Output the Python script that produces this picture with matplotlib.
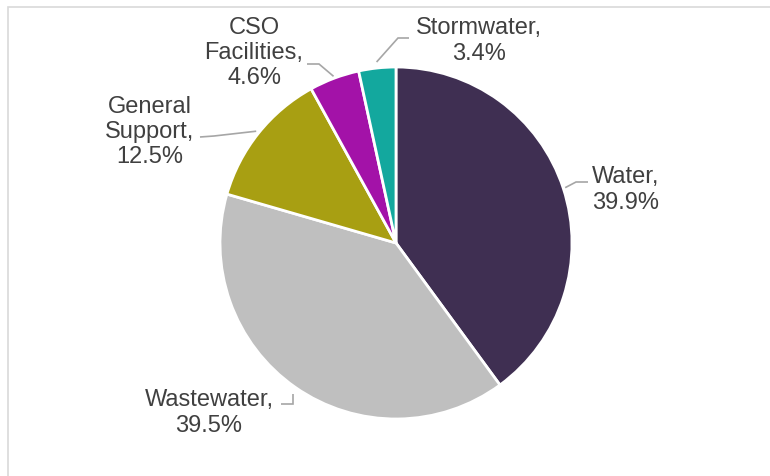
import matplotlib.pyplot as plt
import matplotlib.patches as mpatches
import numpy as np

# Data
labels = ['Water', 'Wastewater', 'General\nSupport', 'CSO\nFacilities', 'Stormwater']
shares = [39.9, 39.5, 12.5, 4.6, 3.4]
colors = ['#3F2F52', '#BFBFBF', '#A89F12', '#A312A8', '#13A89E']

# Layout (pixels, measured from top-left of the image)
W, H = 770, 476
center = (396, H - 243)
radius = 176
label_pos = [(626, 190), (209, 413), (150, 132), (254, 53), (479, 41)]
# leader: start next to the text, elbow, then to the slice edge
leader_start = [(588, 182), (281, 404), (200, 137), (307, 64), (409, 38)]
leader_elbow = [(576, 182), (293, 404), (214, 136), (319, 64), (398, 38)]
leader_gap = [2, 8, 3, 2, 6]
text_color = '#404040'
leader_color = '#A6A6A6'

plt.rcParams['font.family'] = ['Liberation Sans', 'DejaVu Sans']

fig = plt.figure(figsize=(W / 100, H / 100), dpi=100)
ax = fig.add_axes([0, 0, 1, 1])

wedges, _ = ax.pie(shares, colors=colors, startangle=90, counterclock=False,
                   center=center, radius=radius, frame=True,
                   wedgeprops=dict(edgecolor='white', linewidth=2))
ax.set_xlim(0, W)
ax.set_ylim(0, H)
ax.set_aspect('auto')
ax.axis('off')

for i, w in enumerate(wedges):
    mid = np.deg2rad((w.theta1 + w.theta2) / 2)
    ex = center[0] + (radius + leader_gap[i]) * np.cos(mid)
    ey = center[1] + (radius + leader_gap[i]) * np.sin(mid)
    sx, sy = leader_start[i]
    bx, by = leader_elbow[i]
    if i == 1:
        # small corner: straight up from the elbow
        ex = bx
    ax.plot([sx, bx, ex], [H - sy, H - by, ey], color=leader_color, lw=1.2,
            solid_capstyle='butt', solid_joinstyle='miter')
    lx, ly = label_pos[i]
    ax.text(lx, H - ly, f'{labels[i]},\n{shares[i]}%', ha='center', va='center',
            fontsize=17, color=text_color, linespacing=1.2)

# outer chart border (runs off the right and bottom of the image)
fig.patches.append(mpatches.Rectangle((8 / W, -0.1), 1.2, 1.1 - 7 / H, transform=fig.transFigure,
                                      fill=False, edgecolor='#D9D9D9', linewidth=1.2, figure=fig))

fig.savefig('out.png', dpi=100)
